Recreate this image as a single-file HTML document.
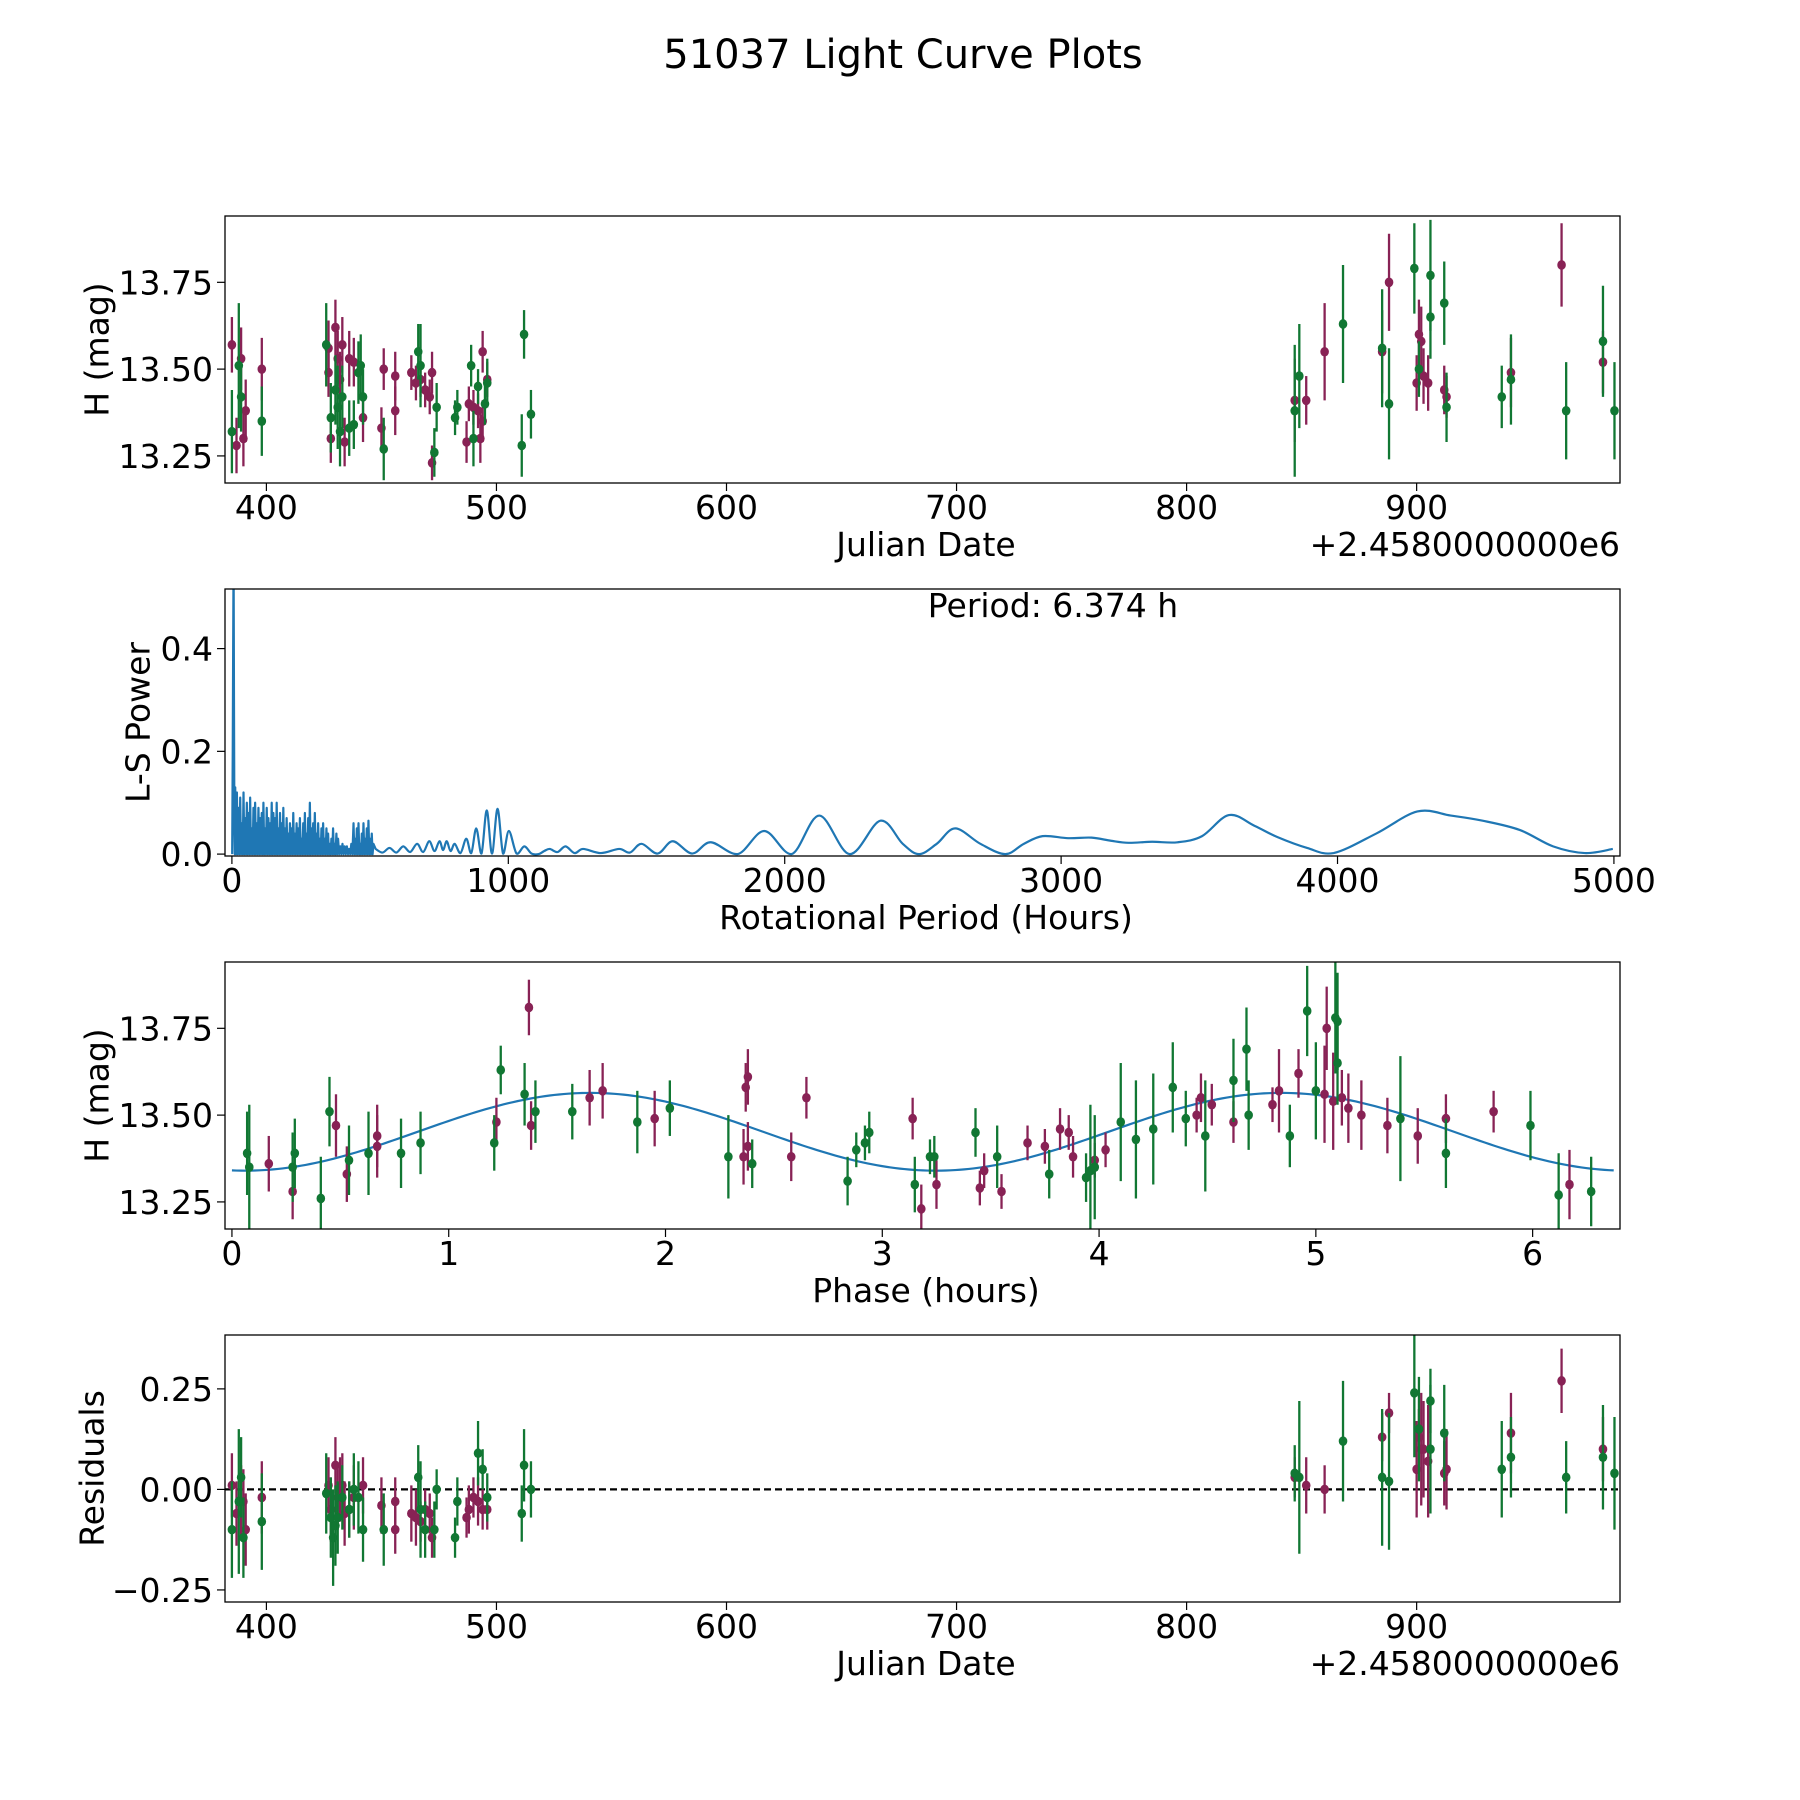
<!DOCTYPE html>
<html><head><meta charset="utf-8"><style>
html,body{margin:0;padding:0;background:#fff}
svg{display:block;font-family:"DejaVu Sans","Liberation Sans",sans-serif}
</style></head><body>
<svg id="fig" width="1800" height="1800" viewBox="0 0 1800 1800" xmlns="http://www.w3.org/2000/svg">
<rect width="1800" height="1800" fill="#fff"/>
<text x="903" y="68" font-size="40" text-anchor="middle">51037 Light Curve Plots</text>
</svg>
<script>
// ---- Panel 1: raw light curve ----
const jdM = [385,387,389,390,391,398,427,427,428,430,431,432,433,434,436,438,442,450,451,456,456,463,465,467,469,471,472,472,487,488,490,492,493,494,494,496,847,852,860,885,888,900,901,902,903,905,912,913,941,963,981];
const hM  = [13.57,13.28,13.53,13.30,13.38,13.50,13.49,13.56,13.30,13.62,13.53,13.47,13.57,13.29,13.53,13.52,13.36,13.33,13.50,13.38,13.48,13.49,13.46,13.47,13.44,13.42,13.49,13.23,13.29,13.40,13.39,13.38,13.30,13.35,13.55,13.47,13.41,13.41,13.55,13.55,13.75,13.46,13.60,13.58,13.48,13.46,13.44,13.42,13.49,13.80,13.52];
const eM  = [0.08,0.08,0.09,0.08,0.09,0.09,0.07,0.08,0.07,0.08,0.08,0.08,0.08,0.07,0.08,0.07,0.07,0.06,0.06,0.07,0.07,0.05,0.05,0.05,0.05,0.05,0.06,0.05,0.06,0.05,0.05,0.05,0.07,0.06,0.06,0.05,0.12,0.07,0.14,0.12,0.14,0.08,0.10,0.10,0.08,0.08,0.07,0.06,0.10,0.12,0.09];
const jdG = [385,388,389,398,426,428,430,431,432,433,436,438,440,441,442,451,466,467,473,474,482,483,489,490,492,495,496,511,512,515,847,849,868,885,888,899,901,906,906,912,913,937,941,965,981,986];
const hG  = [13.32,13.51,13.42,13.35,13.57,13.36,13.44,13.39,13.32,13.42,13.33,13.34,13.49,13.51,13.42,13.27,13.55,13.51,13.26,13.39,13.36,13.39,13.51,13.30,13.45,13.40,13.46,13.28,13.60,13.37,13.38,13.48,13.63,13.56,13.40,13.79,13.50,13.77,13.65,13.69,13.39,13.42,13.47,13.38,13.58,13.38];
const eG  = [0.12,0.18,0.10,0.10,0.12,0.10,0.10,0.12,0.10,0.09,0.08,0.07,0.09,0.09,0.08,0.09,0.08,0.12,0.07,0.07,0.05,0.05,0.06,0.08,0.05,0.06,0.07,0.09,0.07,0.07,0.19,0.15,0.17,0.17,0.16,0.13,0.08,0.16,0.12,0.12,0.10,0.09,0.13,0.14,0.16,0.14];
// ---- Panel 4: residuals ----
const rjdM = [385,387,389,390,391,398,427,428,430,431,432,433,434,436,438,442,450,456,456,463,465,467,469,471,472,487,488,490,492,494,496,847,852,860,885,888,900,901,902,903,905,912,913,941,963,981];
const rM = [0.01,-0.06,-0.03,-0.03,-0.10,-0.02,0.01,-0.05,0.06,-0.02,0.00,0.01,-0.06,-0.05,-0.02,0.01,-0.04,-0.10,-0.03,-0.06,-0.07,-0.08,-0.05,-0.06,-0.12,-0.07,-0.05,-0.02,-0.03,-0.05,-0.05,0.03,0.01,0.00,0.13,0.19,0.05,0.13,0.10,0.10,0.07,0.04,0.05,0.14,0.27,0.10];
const rjdG = [385,388,389,390,398,426,428,429,430,431,433,436,438,440,442,451,466,467,469,473,474,482,483,492,494,496,511,512,515,847,849,868,885,888,899,901,906,906,912,937,941,965,981,986];
const rG = [-0.10,-0.03,0.03,-0.12,-0.08,-0.01,-0.07,-0.12,-0.09,-0.07,-0.02,-0.05,0.00,-0.02,-0.10,-0.10,0.03,-0.05,-0.10,-0.10,0.00,-0.12,-0.03,0.09,0.05,-0.02,-0.06,0.06,0.00,0.04,0.03,0.12,0.03,0.02,0.24,0.15,0.22,0.10,0.14,0.05,0.08,0.03,0.08,0.04];
// ---- Panel 3: phase folded ----
const phM = [0.17,0.28,0.48,0.53,0.67,0.67,1.22,1.37,1.38,1.65,1.71,1.95,2.36,2.37,2.38,2.38,2.58,2.65,3.14,3.18,3.25,3.45,3.47,3.55,3.67,3.75,3.82,3.86,3.88,3.98,4.03,4.45,4.47,4.52,4.62,4.80,4.83,4.92,5.04,5.05,5.08,5.12,5.15,5.21,5.33,5.47,5.60,5.82,6.17];
const phHM = [13.36,13.28,13.47,13.33,13.44,13.41,13.48,13.81,13.47,13.55,13.57,13.49,13.38,13.58,13.61,13.41,13.38,13.55,13.49,13.23,13.30,13.29,13.34,13.28,13.42,13.41,13.46,13.45,13.38,13.37,13.40,13.50,13.55,13.53,13.48,13.53,13.57,13.62,13.56,13.75,13.54,13.55,13.52,13.50,13.47,13.44,13.49,13.51,13.30];
const phG = [0.07,0.08,0.28,0.29,0.41,0.45,0.54,0.63,0.78,0.87,1.21,1.24,1.35,1.40,1.57,1.87,2.02,2.29,2.40,2.84,2.88,2.92,2.94,3.15,3.22,3.24,3.43,3.53,3.77,3.94,3.96,3.98,4.10,4.17,4.25,4.34,4.40,4.49,4.62,4.68,4.69,4.88,4.96,5.00,5.09,5.10,5.10,5.39,5.60,5.99,6.12,6.27];
const phHG = [13.39,13.35,13.35,13.39,13.26,13.51,13.37,13.39,13.39,13.42,13.42,13.63,13.56,13.51,13.51,13.48,13.52,13.38,13.36,13.31,13.40,13.42,13.45,13.30,13.38,13.38,13.45,13.38,13.33,13.32,13.34,13.35,13.48,13.43,13.46,13.58,13.49,13.44,13.60,13.69,13.50,13.44,13.80,13.57,13.78,13.77,13.65,13.49,13.39,13.47,13.27,13.28];
const fitMean = 13.452, fitAmp = 0.112, fitShift = 0.06, period = 6.374;
// ---- Panel 2: periodogram ----
const lsSpikeP = [1, 3, 4.5, 5.5, 6.4, 7.5, 9];
const lsSpikeV = [0.0, 0.2, 0.4, 0.52, 0.52, 0.3, 0.05];
const lsPeakP = [12,18,24,30,36,42,48,54,60,66,72,78,84,90,96,102,108,114,120,126,132,138,144,150,156,162,168,174,180,186,192,198,204,210,216,222,228,234,240,246,252,258,264,270,276,282,288,294,300,306,312,318,324,330,336,342,348,354,360,366,372,378,384,392,400,408,416,424,432,440,446,452,458,464,470,476,482,488,494,500,506,512];
const lsPeakV = [0.13,0.12,0.09,0.11,0.06,0.12,0.07,0.10,0.08,0.11,0.05,0.09,0.10,0.06,0.09,0.07,0.08,0.10,0.05,0.09,0.07,0.06,0.10,0.08,0.07,0.10,0.05,0.08,0.06,0.09,0.05,0.07,0.04,0.06,0.05,0.08,0.04,0.06,0.05,0.07,0.03,0.06,0.08,0.04,0.07,0.10,0.05,0.06,0.08,0.04,0.06,0.03,0.05,0.06,0.03,0.05,0.04,0.02,0.03,0.05,0.02,0.04,0.03,0.015,0.02,0.015,0.015,0.01,0.02,0.06,0.03,0.05,0.06,0.02,0.04,0.06,0.03,0.05,0.065,0.03,0.04,0.02];
const lsSmoothP = [520,545,570,595,620,645,670,692,714,733, 751,764,777,791,806,827,848,866,884,903, 922,941,961,981,1002,1030,1058,1084,1110,1130, 1150,1178,1207,1240,1271,1335,1401,1440,1482,1540, 1595,1665,1732,1830,1926,2025,2125,2235,2346,2427, 2486,2550,2617,2708,2798,2865,2933,3025,3110,3180, 3244,3329,3421,3510,3607,3700,3783,3890,3986,4140, 4289,4410,4525,4659,4780,4895,4996];
const lsSmoothV = [0.01,0.003,0.012,0.003,0.015,0.004,0.02,0.004,0.025,0.006, 0.025,0.008,0.025,0.006,0.02,0.002,0.03,0.002,0.05,0.001, 0.085,0.001,0.088,0.001,0.045,0.001,0.015,0.001,0.0,0.006, 0.01,0.004,0.015,0.002,0.01,0.002,0.01,0.003,0.02,0.001, 0.025,0.001,0.023,0.0,0.045,0.0,0.075,0.0,0.065,0.02, 0.0,0.02,0.05,0.02,0.0,0.02,0.035,0.031,0.032,0.026, 0.022,0.024,0.023,0.035,0.076,0.055,0.033,0.012,0.002,0.04, 0.083,0.075,0.065,0.047,0.015,0.002,0.01];
</script>
<script>
const svg = document.getElementById('fig');
const NS = 'http://www.w3.org/2000/svg';
const MAG = '#882255', GRN = '#117733', BLUE = '#1f77b4';
const FS = 33;
function mk(tag, attrs, parent) {
  const e = document.createElementNS(NS, tag);
  for (const k in attrs) e.setAttribute(k, attrs[k]);
  (parent || svg).appendChild(e);
  return e;
}
const L = 225, R = 1620, H = 267;
function makeAxes(top, xmin, xmax, ymin, ymax) {
  return {
    top, bot: top + H,
    x: v => L + (v - xmin) / (xmax - xmin) * (R - L),
    y: v => top + H - (v - ymin) / (ymax - ymin) * H
  };
}
function frame(ax, name, xticks, xlabs, yticks, ylabs, ylabel, ylx, xlabel, offset) {
  const g = mk('g', {});
  
  
  const clip = mk('clipPath', { id: 'clip-' + name }, g);
  mk('rect', { x: L, y: ax.top, width: R - L, height: H }, clip);
  xticks.forEach((t, i) => {
    const px = ax.x(t);
    const tk = mk('line', { x1: px, x2: px, y1: ax.bot, y2: ax.bot + 8, stroke: '#000', 'stroke-width': 1.2 }, g);
    
    
    const tl = mk('text', { x: px, y: ax.bot + 36, 'font-size': FS, 'text-anchor': 'middle' }, g);
    tl.textContent = xlabs[i];
    
    
  });
  yticks.forEach((t, i) => {
    const py = ax.y(t);
    const tk = mk('line', { x1: L - 8, x2: L, y1: py, y2: py, stroke: '#000', 'stroke-width': 1.2 }, g);
    
    
    const tl = mk('text', { x: L - 12, y: py + 12, 'font-size': FS, 'text-anchor': 'end' }, g);
    tl.textContent = ylabs[i];
    
    
  });
  const cy = ax.top + H / 2;
  const yl = mk('text', { x: ylx, y: cy, 'font-size': FS, 'text-anchor': 'middle', 'dominant-baseline': 'central', transform: `rotate(-90 ${ylx} ${cy})` }, g);
  yl.textContent = ylabel;
  
  
  const xl = mk('text', { x: 926, y: ax.bot + 73, 'font-size': FS, 'text-anchor': 'middle' }, g);
  xl.textContent = xlabel;
  
  
  if (offset) {
    const ol = mk('text', { x: R, y: ax.bot + 73, 'font-size': FS, 'text-anchor': 'end' }, g);
    ol.textContent = offset;
    
    
  }
  const data = mk('g', { 'clip-path': `url(#clip-${name})` }, g);
  return { g, data };
}
function border(ax, g) {
  const b = mk('rect', { x: L, y: ax.top, width: R - L, height: H, fill: 'none', stroke: '#000', 'stroke-width': 1.3 }, g);
  
  
}
function errPts(ax, parent, xs, ys, es, color, nm) {
  xs.forEach((xv, i) => {
    const px = ax.x(xv), py = ax.y(ys[i]);
    if (es) {
      const l = mk('line', { x1: px, x2: px, y1: ax.y(ys[i] + es[i]), y2: ax.y(ys[i] - es[i]), stroke: color, 'stroke-width': 2.3 }, parent);
      
      
    }
    const c = mk('ellipse', { cx: px, cy: py, rx: 4.3, ry: 4.8, fill: color }, parent);
    
    
  });
}
const jdTicks = [400, 500, 600, 700, 800, 900];
const jdLabs = ['400', '500', '600', '700', '800', '900'];

// Panel 1
const a1 = makeAxes(216, 382.0, 988.4, 13.172, 13.941);
const f1 = frame(a1, 'raw-light-curve-panel', jdTicks, jdLabs, [13.25, 13.5, 13.75], ['13.25', '13.50', '13.75'], 'H (mag)', 97, 'Julian Date', '+2.4580000000e6');
errPts(a1, f1.data, jdM, hM, eM, MAG, 'filter-1');
errPts(a1, f1.data, jdG, hG, eG, GRN, 'filter-2');
border(a1, f1.g);

// Panel 2
const a2 = makeAxes(589, -25, 5022, -0.0037, 0.516);
const f2 = frame(a2, 'periodogram-panel', [0, 1000, 2000, 3000, 4000, 5000], ['0', '1000', '2000', '3000', '4000', '5000'], [0, 0.2, 0.4], ['0.0', '0.2', '0.4'], 'L-S Power', 138, 'Rotational Period (Hours)');
(function () {
  let d = '';
  lsSpikeP.forEach((p, i) => { d += (i ? ' L' : 'M') + a2.x(p) + ',' + a2.y(lsSpikeV[i]); });
  let prev = lsSpikeP[lsSpikeP.length - 1];
  lsPeakP.forEach((p, i) => {
    d += ' L' + a2.x((prev + p) / 2) + ',' + a2.y(0);
    d += ' L' + a2.x(p) + ',' + a2.y(lsPeakV[i]);
    prev = p;
  });
  d += ' L' + a2.x(lsSmoothP[0]) + ',' + a2.y(lsSmoothV[0]);
  const n = Math.min(lsSmoothP.length, lsSmoothV.length);
  const P = [];
  for (let i = 0; i < n; i++) P.push([a2.x(lsSmoothP[i]), a2.y(lsSmoothV[i])]);
  const yMax = a2.y(-0.002);
  for (let i = 0; i < P.length - 1; i++) {
    const p0 = P[Math.max(0, i - 1)], p1 = P[i], p2 = P[i + 1], p3 = P[Math.min(P.length - 1, i + 2)];
    const c1x = p1[0] + (p2[0] - p0[0]) / 6, c1y = Math.min(p1[1] + (p2[1] - p0[1]) / 6, yMax);
    const c2x = p2[0] - (p3[0] - p1[0]) / 6, c2y = Math.min(p2[1] - (p3[1] - p1[1]) / 6, yMax);
    d += ` C${c1x},${c1y} ${c2x},${c2y} ${p2[0]},${p2[1]}`;
  }
  const path = mk('path', { d, fill: 'none', stroke: BLUE, 'stroke-width': 2.2, 'stroke-linejoin': 'round' }, f2.data);
  
  
})();
const pl = mk('text', { x: 1053, y: 617, 'font-size': FS, 'text-anchor': 'middle' }, f2.g);
pl.textContent = 'Period: 6.374 h';


border(a2, f2.g);

// Panel 3
const a3 = makeAxes(962, -0.032, 6.403, 13.172, 13.941);
const f3 = frame(a3, 'phase-folded-panel', [0, 1, 2, 3, 4, 5, 6], ['0', '1', '2', '3', '4', '5', '6'], [13.25, 13.5, 13.75], ['13.25', '13.50', '13.75'], 'H (mag)', 97, 'Phase (hours)');
(function () {
  let d = '';
  for (let i = 0; i <= 300; i++) {
    const ph = period * i / 300;
    const v = fitMean - fitAmp * Math.cos(4 * Math.PI * (ph - fitShift) / period);
    d += (i ? ' L' : 'M') + a3.x(ph) + ',' + a3.y(v);
  }
  const path = mk('path', { d, fill: 'none', stroke: BLUE, 'stroke-width': 2.2 }, f3.data);
  
  
})();
const phEM = phM.map((_, i) => eM[i % eM.length]);
const phEG = phG.map((_, i) => eG[i % eG.length]);
errPts(a3, f3.data, phM, phHM, phEM, MAG, 'filter-1');
errPts(a3, f3.data, phG, phHG, phEG, GRN, 'filter-2');
border(a3, f3.g);

// Panel 4
const a4 = makeAxes(1335, 382.0, 988.4, -0.280, 0.384);
const f4 = frame(a4, 'residuals-panel', jdTicks, jdLabs, [-0.25, 0, 0.25], ['\u22120.25', '0.00', '0.25'], 'Residuals', 92, 'Julian Date', '+2.4580000000e6');
const zl = mk('line', { x1: L, x2: R, y1: a4.y(0), y2: a4.y(0), stroke: '#000', 'stroke-width': 2.2, 'stroke-dasharray': '7,4' }, f4.data);


const rEM = rjdM.map((_, i) => eM[i % eM.length]);
const rEG = rjdG.map((_, i) => eG[i % eG.length]);
errPts(a4, f4.data, rjdM, rM, rEM, MAG, 'filter-1-residual');
errPts(a4, f4.data, rjdG, rG, rEG, GRN, 'filter-2-residual');
border(a4, f4.g);
</script>
</body></html>
